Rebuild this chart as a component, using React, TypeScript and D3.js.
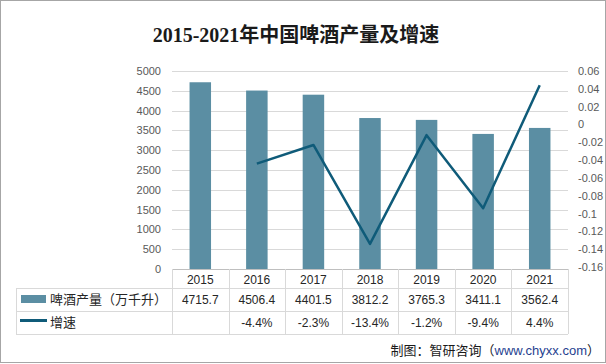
import { useEffect, useRef } from "react";
import * as d3 from "d3";

const YEARS = ["2015", "2016", "2017", "2018", "2019", "2020", "2021"];
const OUTPUT = [4715.7, 4506.4, 4401.5, 3812.2, 3765.3, 3411.1, 3562.4];
const GROWTH = [null, -0.044, -0.023, -0.134, -0.012, -0.094, 0.044];
const GROWTH_LABELS = ["", "-4.4%", "-2.3%", "-13.4%", "-1.2%", "-9.4%", "4.4%"];
const LEFT_TICKS = [0, 500, 1000, 1500, 2000, 2500, 3000, 3500, 4000, 4500, 5000];
const RIGHT_TICKS = [-0.16, -0.14, -0.12, -0.1, -0.08, -0.06, -0.04, -0.02, 0, 0.02, 0.04, 0.06];

const W = 606;
const H = 364;
const BAR_COLOR = "#5b8ea3";
const LINE_COLOR = "#0f5b79";
const FONT = "'Liberation Sans', 'Noto Sans CJK SC', sans-serif";
const CJK = "'Noto Sans CJK SC', sans-serif";

export default function App() {
  const svgRef = useRef<SVGSVGElement | null>(null);

  useEffect(() => {
    const svg = svgRef.current;
    if (!svg) return;
    svg.innerHTML = "";
    const root = d3.select(svg).attr("width", W).attr("height", H);

    const plotL = 172, plotR = 568, plotT = 71, plotB = 269;
    const tableL = 16, row1 = 288, row2 = 311, row3 = 334;

    root.append("rect").attr("x", 0.5).attr("y", 0.5).attr("width", W - 1).attr("height", H - 2)
      .attr("fill", "#fff").attr("stroke", "#a6a6a6");

    // title
    root.append("text").attr("x", 296).attr("y", 42).attr("text-anchor", "middle")
      .style("font-family", "'Liberation Serif', 'Noto Sans CJK SC', serif")
      .style("font-size", "20px").style("font-weight", "600").attr("fill", "#1a1a1a")
      .text("2015-2021年中国啤酒产量及增速");

    const x = d3.scaleBand().domain(YEARS).range([plotL, plotR]).padding(0);
    const yL = d3.scaleLinear().domain([0, 5000]).range([plotB, plotT]);
    const yR = d3.scaleLinear().domain([-0.16, 0.06]).range([plotB - 2, plotT]);

    // grid
    root.append("g").selectAll("line").data(LEFT_TICKS.filter((d) => d > 0)).join("line")
      .attr("x1", plotL).attr("x2", plotR)
      .attr("y1", (d) => Math.round(yL(d)) + 0.5).attr("y2", (d) => Math.round(yL(d)) + 0.5)
      .attr("stroke", "#d9d9d9");

    // left axis labels
    root.append("g").selectAll("text").data(LEFT_TICKS).join("text")
      .attr("x", 161).attr("y", (d) => yL(d) + 4).attr("text-anchor", "end")
      .style("font-family", FONT).style("font-size", "11px").attr("fill", "#595959")
      .text((d) => String(d));

    // right axis labels
    root.append("g").selectAll("text").data(RIGHT_TICKS).join("text")
      .attr("x", 578).attr("y", (d) => yR(d) + 4)
      .style("font-family", FONT).style("font-size", "11px").attr("fill", "#595959")
      .text((d) => String(+d.toFixed(2)));

    // bars
    const bw = x.bandwidth() * 0.38;
    root.append("g").selectAll("rect").data(OUTPUT).join("rect")
      .attr("x", (_, i) => x(YEARS[i])! + (x.bandwidth() - bw) / 2)
      .attr("width", bw)
      .attr("y", (d) => yL(d)).attr("height", (d) => plotB - yL(d))
      .attr("fill", BAR_COLOR);

    // growth line
    const pts = GROWTH.map((g, i) => ({ g, i })).filter((p) => p.g !== null) as { g: number; i: number }[];
    const line = d3.line<{ g: number; i: number }>()
      .x((p) => x(YEARS[p.i])! + x.bandwidth() / 2)
      .y((p) => yR(p.g));
    root.append("path").attr("d", line(pts)).attr("fill", "none")
      .attr("stroke", LINE_COLOR).attr("stroke-width", 2.5).attr("stroke-linejoin", "round");

    // table lines
    const tg = root.append("g").attr("stroke", "#d9d9d9").attr("shape-rendering", "crispEdges");
    tg.append("line").attr("x1", plotL).attr("x2", plotR).attr("y1", plotB + 0.5).attr("y2", plotB + 0.5).attr("stroke", "#bfbfbf");
    [row1, row2, row3].forEach((ry) => {
      tg.append("line").attr("x1", tableL).attr("x2", plotR).attr("y1", ry + 0.5).attr("y2", ry + 0.5);
    });
    tg.append("line").attr("x1", tableL + 0.5).attr("x2", tableL + 0.5).attr("y1", row1).attr("y2", row3);
    YEARS.concat(["end"]).forEach((_, i) => {
      const xx = Math.round(plotL + i * x.bandwidth()) + 0.5;
      tg.append("line").attr("x1", xx).attr("x2", xx).attr("y1", plotB).attr("y2", row3);
    });

    const cell = (txt: string, cx: number, cy: number) =>
      root.append("text").attr("x", cx).attr("y", cy).attr("text-anchor", "middle")
        .style("font-family", FONT).style("font-size", "12px").attr("fill", "#262626").text(txt);

    YEARS.forEach((yr, i) => {
      const cx = x(yr)! + x.bandwidth() / 2;
      cell(yr, cx, 284);
      cell(String(OUTPUT[i].toFixed(1)), cx, 304);
      cell(GROWTH_LABELS[i], cx, 327);
    });

    // legend cells
    root.append("rect").attr("x", 21).attr("y", 295).attr("width", 25).attr("height", 8).attr("fill", BAR_COLOR);
    root.append("text").attr("x", 50).attr("y", 304)
      .style("font-family", CJK).style("font-size", "13px").attr("fill", "#262626")
      .text("啤酒产量（万千升）");
    root.append("line").attr("x1", 20).attr("x2", 47).attr("y1", 320.5).attr("y2", 320.5)
      .attr("stroke", LINE_COLOR).attr("stroke-width", 3);
    root.append("text").attr("x", 50).attr("y", 327)
      .style("font-family", CJK).style("font-size", "13px").attr("fill", "#262626")
      .text("增速");

    // source
    const src = root.append("text").attr("x", 600).attr("y", 355).attr("text-anchor", "end")
      .style("font-family", CJK).style("font-size", "13px").attr("fill", "#1a1a1a");
    src.append("tspan").text("制图：智研咨询（");
    src.append("tspan").attr("fill", "#1f3f8f").style("font-family", FONT).text("www.chyxx.com");
    src.append("tspan").text("）");
  }, []);

  return (
    <div style={{ position: "fixed", left: 0, top: 0 }}>
      <svg ref={svgRef} />
    </div>
  );
}
